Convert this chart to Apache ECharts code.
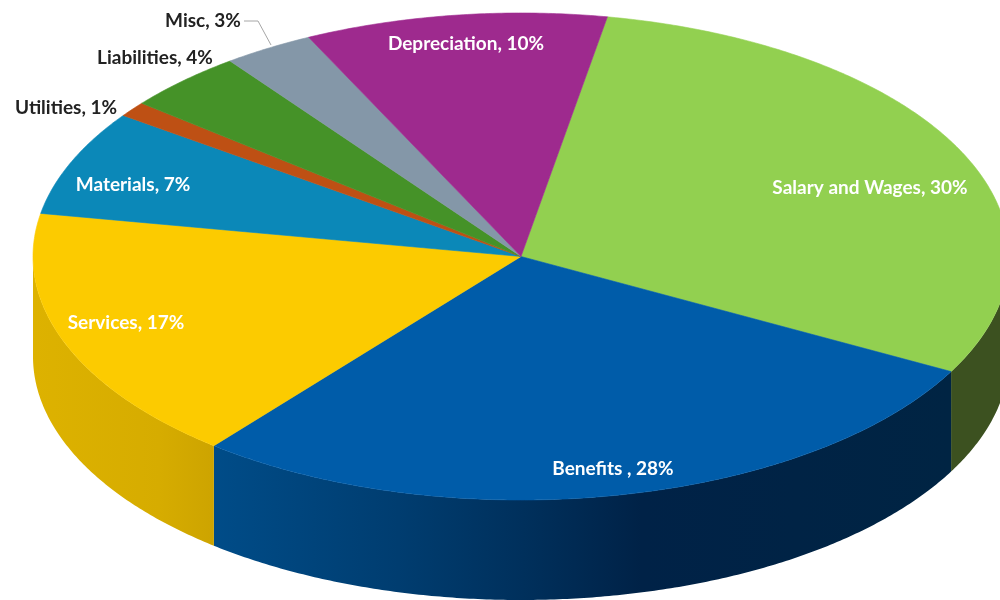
<!DOCTYPE html>
<html>
<head>
<meta charset="utf-8">
<style>html,body{margin:0;padding:0;background:#fff}#chart{width:1000px;height:600px}</style>
<script src="https://cdn.jsdelivr.net/npm/echarts@6/dist/echarts.min.js"></script>
</head>
<body>
<div id="chart"></div>
<script>
// Expense shares, clockwise from the first slice
const categories = ['Salary and Wages', 'Benefits ', 'Services', 'Materials', 'Utilities', 'Liabilities', 'Misc', 'Depreciation'];
const shares = [30, 28, 17, 7, 1, 4, 3, 10];

// Slice colours and wall shading, kept apart from the data
const topColors = ['#92D050', '#005CA9', '#FCCB00', '#0B88B8', '#BE5014', '#459228', '#8497A8', '#9E2A8E'];
const wallStops = [
  [[0, '#3C5120'], [1, '#3C5120']],
  [[0, '#004C88'], [0.25, '#003D70'], [0.42, '#00305C'], [0.58, '#002247'], [1, '#002443']],
  [[0, '#DDB200'], [0.7, '#D6AC00'], [1, '#CDA400']]
];
const labelCentres = [
  [870, 188, '#fff'], [613, 469, '#fff'], [126, 323, '#fff'], [133, 185, '#fff'],
  [66, 108, '#222'], [155, 58, '#222'], [203, 21, '#222'], [466, 44, '#fff']
];

// Tilted pie geometry
const CX = 521, CY = 256.5, RX = 488, RY = 243.5, DEPTH = 100, START_DEG = 10.2;

function rimPoint(deg, drop) {
  const t = deg * Math.PI / 180;
  return [CX + RX * Math.sin(t), CY - RY * Math.cos(t) + (drop || 0)];
}
function arc(from, to, drop) {
  const pts = [];
  const steps = Math.max(2, Math.ceil(Math.abs(to - from) * 2));
  for (let i = 0; i <= steps; i++) pts.push(rimPoint(from + (to - from) * i / steps, drop));
  return pts;
}

const total = shares.reduce((a, b) => a + b, 0);
const startOf = shares.map((_, i) =>
  START_DEG + shares.slice(0, i).reduce((a, b) => a + b, 0) / total * 360);

function renderSlice(params, api) {
  const i = params.dataIndex;
  const value = api.value(0);
  const from = startOf[i];
  const to = from + value / total * 360;
  const children = [];

  // Front wall: only the part of the rim that faces the viewer
  const a = Math.max(from, 90), b = Math.min(to, 270);
  if (b > a) {
    const wallLeft = rimPoint(b)[0], wallRight = rimPoint(a)[0];
    children.push({
      type: 'polygon',
      shape: { points: arc(a, b, 0).concat(arc(b, a, DEPTH)) },
      style: {
        fill: new echarts.graphic.LinearGradient(wallLeft, 0, wallRight, 0,
          wallStops[i].map(s => ({ offset: s[0], color: s[1] })), true)
      }
    });
  }

  // Top face
  children.push({
    type: 'polygon',
    shape: { points: [[CX, CY]].concat(arc(from, to, 0)) },
    style: { fill: topColors[i], stroke: topColors[i], lineWidth: 0.6 }
  });

  // Slice label
  const lc = labelCentres[i];
  children.push({
    type: 'text',
    x: lc[0], y: lc[1],
    style: {
      text: categories[i] + ', ' + value + '%',
      x: 0, y: 0,
      fill: lc[2],
      font: 'bold 19px Lato',
      align: 'center',
      verticalAlign: 'middle'
    }
  });
  return { type: 'group', children };
}

// Leader from the Misc label to its slice
function renderLeader() {
  return {
    type: 'polyline',
    shape: { points: [[244, 21], [258, 21], [271, 45]] },
    style: { stroke: '#A6A6A6', lineWidth: 1, fill: null }
  };
}

const chart = echarts.init(document.getElementById('chart'), null, { renderer: 'canvas' });
chart.setOption({
  animation: false,
  backgroundColor: '#fff',
  series: [
    {
      type: 'custom',
      coordinateSystem: 'none',
      silent: true,
      data: shares.map(v => [v]),
      renderItem: renderSlice
    },
    {
      type: 'custom',
      coordinateSystem: 'none',
      silent: true,
      data: [[0]],
      renderItem: renderLeader
    }
  ]
});
</script>
</body>
</html>
